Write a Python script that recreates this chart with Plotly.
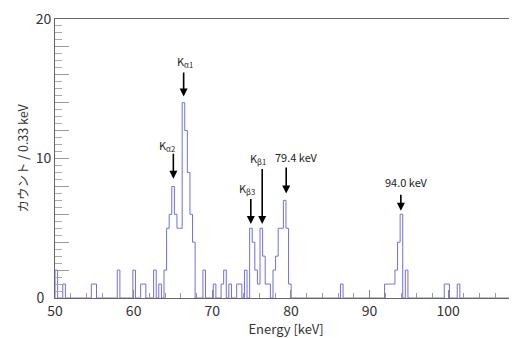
import numpy as np
import plotly.graph_objects as go

# ---- data -------------------------------------------------------------
BIN_START = 50.0          # keV
BIN_WIDTH = 0.33          # keV
N_BINS = 178

# non-empty bins (index from BIN_START) and their counts
bin_index = [0, 3, 14, 15, 24, 30, 33, 34, 38, 40,
             42, 43, 44, 45, 46, 47, 48, 49, 50, 51, 52, 53,
             57, 61, 64, 65, 67, 70, 71, 73,
             75, 76, 77, 78, 79, 80, 81, 82,
             84, 85, 86, 87, 88, 89, 90,
             110, 127, 128, 129, 130, 131, 132, 133, 135,
             150, 151, 155, 177]
bin_counts = [2, 1, 1, 1, 2, 2, 1, 1, 2, 1,
              2, 5, 6, 8, 6, 5, 5, 14, 12, 9, 6, 4,
              2, 1, 1, 2, 1, 1, 1, 2,
              5, 4, 2, 1, 5, 3, 1, 1,
              2, 3, 5, 5, 7, 5, 1,
              1, 1, 1, 1, 1, 2, 4, 6, 2,
              1, 1, 1, 1]

# peak labels: text, arrow energy, arrow tip (counts), arrow length (px),
# label centre energy, label centre (counts)
peak_text = ["K<sub>α1</sub>", "K<sub>α2</sub>", "K<sub>β3</sub>",
             "K<sub>β1</sub>", "79.4 keV", "94.0 keV"]
peak_energy = [66.36, 65.05, 74.9, 76.35, 79.4, 93.98]
peak_tip = [14.45, 8.55, 5.3, 5.3, 7.5, 6.25]
peak_arrow_len = [26, 27, 27, 57, 28, 18]
label_x = [66.55, 64.3, 74.45, 75.8, 80.75, 94.75]
label_y = [16.95, 10.9, 7.85, 10.0, 10.1, 8.35]

X_RANGE = [50, 108.75]
Y_RANGE = [0, 20]
Y_TICKS = list(range(0, 21, 2))
Y_TICK_TEXT = ["0\u2002" if v == 0 else (str(v) if v % 10 == 0 else " ")
               for v in Y_TICKS]

# ---- build histogram step --------------------------------------------
counts = np.zeros(N_BINS)
counts[bin_index] = bin_counts
edges = BIN_START + BIN_WIDTH * np.arange(N_BINS + 1)
xs = np.concatenate([[edges[0]], edges, [edges[-1]]])
ys = np.concatenate([[0], counts, [counts[-1]], [0]])

FONT = "Noto Sans CJK JP, Noto Sans, sans-serif"

fig = go.Figure()
fig.add_trace(go.Scatter(x=xs, y=ys, mode="lines", line_shape="hv",
                         line=dict(color="rgb(112,112,220)", width=1),
                         hoverinfo="skip", showlegend=False))

ann = []
for t, xe, yt, L, lx, ly in zip(peak_text, peak_energy, peak_tip,
                                peak_arrow_len, label_x, label_y):
    ann.append(dict(x=xe, y=yt, xref="x", yref="y", text=" ", showarrow=True,
                    ax=0, ay=-L, arrowhead=2, arrowsize=1, arrowwidth=1.6,
                    arrowcolor="black", standoff=0, startstandoff=0,
                    font=dict(size=1)))
    ann.append(dict(x=lx, y=ly, xref="x", yref="y", text=t, showarrow=False,
                    font=dict(family=FONT, size=11, color="#222")))

# page body has an 8px margin, so the figure is sized/offset accordingly
fig.update_layout(
    width=509, height=330,
    margin=dict(l=47, r=0, t=11, b=40),
    paper_bgcolor="white", plot_bgcolor="white",
    font=dict(family=FONT, color="#333"),
    annotations=ann,
    xaxis=dict(range=X_RANGE, showgrid=False, zeroline=False,
               showline=True, linecolor="#666", linewidth=1, mirror=True,
               ticks="inside", tick0=50, dtick=10, ticklen=8,
               tickcolor="#888", tickfont=dict(size=14, color="#333"),
               ticklabeloverflow="allow",
               minor=dict(dtick=2, tick0=50, ticks="inside", ticklen=5,
                          tickcolor="#999"),
               title=dict(text="Energy [keV]", font=dict(size=13),
                          standoff=6)),
    yaxis=dict(range=Y_RANGE, showgrid=False, zeroline=False,
               showline=True, linecolor="#666", linewidth=1,
               ticks="inside", tickvals=Y_TICKS, ticktext=Y_TICK_TEXT,
               ticklen=14, tickcolor="#999",
               tickfont=dict(size=14, color="#333"),
               ticklabeloverflow="allow",
               minor=dict(dtick=0.5, ticks="inside", ticklen=7,
                          tickcolor="#aaa"),
               title=dict(text="カウント / 0.33 keV", font=dict(size=12.5),
                          standoff=4)),
)

fig.write_html("out.html")
